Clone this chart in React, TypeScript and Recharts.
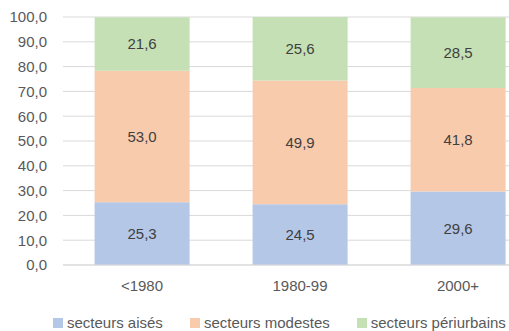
import { Bar, BarChart, CartesianGrid, LabelList, Legend, XAxis, YAxis } from 'recharts';

const categories = ['<1980', '1980-99', '2000+'];
const aises = [25.3, 24.5, 29.6];
const modestes = [53.0, 49.9, 41.8];
const periurbains = [21.6, 25.6, 28.5];
const yTicks = [0, 10, 20, 30, 40, 50, 60, 70, 80, 90, 100];

const series = [
  { key: 'aises', name: 'secteurs aisés', color: '#b4c7e7' },
  { key: 'modestes', name: 'secteurs modestes', color: '#f8cbad' },
  { key: 'periurbains', name: 'secteurs périurbains', color: '#c5e0b4' },
];

const data = categories.map((c, i) => ({
  cat: c,
  aises: aises[i],
  modestes: modestes[i],
  periurbains: periurbains[i],
}));

const fmt = (v: number) => v.toFixed(1).replace('.', ',');
const FONT = '"Liberation Sans", Arial, sans-serif';

function LegendContent() {
  return (
    <div style={{ display: 'flex', gap: 27, fontFamily: FONT, fontSize: 15, color: '#595959' }}>
      {series.map((s) => (
        <div key={s.key} style={{ display: 'flex', alignItems: 'center', gap: 4 }}>
          <span style={{ width: 10, height: 10, background: s.color, display: 'inline-block' }} />
          <span>{s.name}</span>
        </div>
      ))}
    </div>
  );
}

export default function App() {
  return (
    <div style={{ position: 'fixed', left: 0, top: 0, width: 509, height: 331, overflow: 'hidden', background: '#fff' }}>
      <BarChart
        width={537}
        height={331}
        data={data}
        barCategoryGap="20%"
        margin={{ top: 17, right: 0, bottom: 0, left: 0 }}
        style={{ fontFamily: FONT }}
      >
        <CartesianGrid vertical={false} stroke="#d9d9d9" />
        <XAxis
          dataKey="cat"
          height={30}
          tickLine={false}
          axisLine={{ stroke: '#d9d9d9' }}
          tickSize={0}
          tickMargin={15}
          tick={{ fill: '#595959', fontSize: 15 }}
        />
        <YAxis
          width={63}
          domain={[0, 100]}
          ticks={yTicks}
          tickFormatter={fmt}
          axisLine={false}
          tickLine={false}
          tickSize={0}
          tickMargin={16}
          tick={{ fill: '#595959', fontSize: 15 }}
        />
        <Legend
          verticalAlign="bottom"
          height={36}
          content={() => <LegendContent />}
          wrapperStyle={{ left: 53, top: 314, width: 'auto' }}
        />
        {series.map((s) => (
          <Bar key={s.key} dataKey={s.key} name={s.name} stackId="a" fill={s.color} isAnimationActive={false}>
            <LabelList dataKey={s.key} position="center" formatter={(v: number) => fmt(v)} fill="#404040" fontSize={15} />
          </Bar>
        ))}
      </BarChart>
    </div>
  );
}
